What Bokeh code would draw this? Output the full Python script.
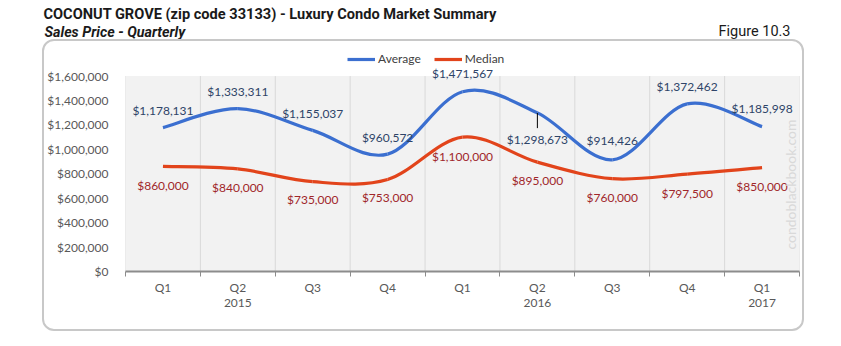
import math
from bokeh.plotting import figure
from bokeh.layouts import column
from bokeh.models import (ColumnDataSource, FixedTicker, NumeralTickFormatter, Label,
                          LabelSet, Legend, LegendItem, Range1d)
from bokeh.core.properties import value
from bokeh.embed import file_html
from bokeh.resources import INLINE

# ---------------- data ----------------
quarters = ["Q1", "Q2", "Q3", "Q4", "Q1", "Q2", "Q3", "Q4", "Q1"]
years = ["", "2015", "", "", "", "2016", "", "", "2017"]
average = [1178131, 1333311, 1155037, 960572, 1471567, 1298673, 914426, 1372462, 1185998]
median = [860000, 840000, 735000, 753000, 1100000, 895000, 760000, 797500, 850000]
y_ticks = [0, 200000, 400000, 600000, 800000, 1000000, 1200000, 1400000, 1600000]

# label placement (pixels, + = up)
avg_label_offset = [17, 17, 17, 17, 18, -27, 19, 17, 18]
med_label_offset = [-19, -19, -18, -18, -19, -18, -19, -19, -19]

BLUE = "#3b6fd0"
RED = "#e2441b"
AVG_TXT = "#2e4468"
MED_TXT = "#a0262a"
GRAY = "#595959"
FONT = "Lato"
FS = "12px"
TFONT = "Roboto"

xs = list(range(1, len(quarters) + 1))
y_top = y_ticks[-1]

# ---------------- header (titles) ----------------
head = figure(width=841, height=39, x_range=Range1d(0, 841), y_range=Range1d(39, 0),
              output_backend="svg", toolbar_location=None, x_axis_type=None, y_axis_type=None,
              min_border=0, outline_line_color=None, background_fill_color="white",
              border_fill_color="white", frame_align=False)
head.grid.visible = False
head.add_layout(Label(x=43, y=13, text="COCONUT GROVE (zip code 33133) - Luxury Condo Market Summary",
                      text_align="left", text_baseline="middle", text_font=TFONT,
                      text_font_size="14.6px", text_font_style="bold", text_color="#1a1a1a"))
head.add_layout(Label(x=44, y=31, text="Sales Price - Quarterly",
                      text_align="left", text_baseline="middle", text_font=TFONT,
                      text_font_size="14.3px", text_font_style="bold italic", text_color="#1a1a1a"))
head.add_layout(Label(x=790, y=31, text="Figure 10.3",
                      text_align="right", text_baseline="middle", text_font=TFONT,
                      text_font_size="14.5px", text_color="#1a1a1a"))

# ---------------- main chart ----------------
p = figure(width=762, height=292, x_range=Range1d(0.5, len(xs) + 0.5),
           y_range=Range1d(0, 1850000), output_backend="svg", toolbar_location=None,
           min_border_left=76, min_border_right=7, min_border_top=4, min_border_bottom=62,
           background_fill_color="white", border_fill_color=None,
           outline_line_color=None, frame_align=False,
           styles={"border": "2px solid #c8c8c8", "border-radius": "12px"},
           margin=(0, 0, 0, 42))

# plot area background and category separators
p.quad(left=[0.5], right=[len(xs) + 0.5], bottom=[0], top=[y_top],
       fill_color="#f2f2f2", line_color=None)
bounds = [x - 0.5 for x in xs] + [xs[-1] + 0.5]
p.segment(x0=bounds, y0=[0] * len(bounds), x1=bounds, y1=[y_top] * len(bounds),
          line_color="#d9d9d9", line_width=1)

# x axis
overrides = {}
for i, (q, yr) in enumerate(zip(quarters, years)):
    overrides[xs[i]] = q + ("\n" + yr if yr else "")
p.xaxis.ticker = FixedTicker(ticks=xs, minor_ticks=bounds)
p.xaxis.major_label_overrides = overrides
p.xaxis.major_tick_line_color = None
p.xaxis.minor_tick_line_color = "#8c8c8c"
p.xaxis.minor_tick_out = 5
p.xaxis.minor_tick_in = 0
p.xaxis.axis_line_color = "#8c8c8c"
p.xaxis.axis_line_width = 2
p.xaxis.major_label_text_font = FONT
p.xaxis.major_label_text_font_size = FS
p.xaxis.major_label_text_color = GRAY
p.xaxis.major_label_text_line_height = 1.0
p.xaxis.major_label_standoff = 2

# y axis
p.yaxis.ticker = FixedTicker(ticks=y_ticks)
p.yaxis.formatter = NumeralTickFormatter(format="$0,0")
p.yaxis.axis_line_color = None
p.yaxis.major_tick_line_color = None
p.yaxis.minor_tick_line_color = None
p.yaxis.major_label_text_font = FONT
p.yaxis.major_label_text_font_size = FS
p.yaxis.major_label_text_color = GRAY
p.yaxis.major_label_standoff = 11

p.grid.visible = False


def bezier_segments(xv, yv, t=1.0 / 6.0):
    n = len(xv)
    d = dict(x0=[], y0=[], x1=[], y1=[], cx0=[], cy0=[], cx1=[], cy1=[])
    for i in range(n - 1):
        pm = max(i - 1, 0)
        pp = min(i + 2, n - 1)
        d["x0"].append(xv[i]); d["y0"].append(yv[i])
        d["x1"].append(xv[i + 1]); d["y1"].append(yv[i + 1])
        d["cx0"].append(xv[i] + (xv[i + 1] - xv[pm]) * t)
        d["cy0"].append(yv[i] + (yv[i + 1] - yv[pm]) * t)
        d["cx1"].append(xv[i + 1] - (xv[pp] - xv[i]) * t)
        d["cy1"].append(yv[i + 1] - (yv[pp] - yv[i]) * t)
    return ColumnDataSource(d)


r_avg = p.bezier(x0="x0", y0="y0", x1="x1", y1="y1", cx0="cx0", cy0="cy0", cx1="cx1", cy1="cy1",
                 source=bezier_segments(xs, average), line_color=BLUE, line_width=3.2)
r_med = p.bezier(x0="x0", y0="y0", x1="x1", y1="y1", cx0="cx0", cy0="cy0", cx1="cx1", cy1="cy1",
                 source=bezier_segments(xs, median), line_color=RED, line_width=3.2)

# leader line for the label placed below its point
for i, off in enumerate(avg_label_offset):
    if off < 0:
        p.segment(x0=[xs[i]], y0=[average[i]], x1=[xs[i]], y1=[average[i] - 125000],
                  line_color="black", line_width=1)

# data labels
avg_src = ColumnDataSource(dict(x=xs, y=average, t=["${:,}".format(v) for v in average],
                                off=avg_label_offset))
med_src = ColumnDataSource(dict(x=xs, y=median, t=["${:,}".format(v) for v in median],
                                off=med_label_offset))
p.add_layout(LabelSet(x="x", y="y", text="t", y_offset="off", source=avg_src,
                      text_align="center", text_baseline="middle", text_font=value(FONT),
                      text_font_size=value(FS), text_color=AVG_TXT))
p.add_layout(LabelSet(x="x", y="y", text="t", y_offset="off", source=med_src,
                      text_align="center", text_baseline="middle", text_font=value(FONT),
                      text_font_size=value(FS), text_color=MED_TXT))

# legend
legend = Legend(items=[LegendItem(label="Average", renderers=[r_avg], index=0),
                       LegendItem(label="Median", renderers=[r_med], index=0)],
                orientation="horizontal", location=(222, 205), padding=0, margin=0,
                spacing=13, glyph_width=28, glyph_height=14, label_height=14,
                label_standoff=3, border_line_color=None, background_fill_alpha=0,
                label_text_font=FONT, label_text_font_size="12px",
                label_text_color="#404040")
p.add_layout(legend)

# watermark
p.add_layout(Label(x=744, y=141, x_units="canvas", y_units="canvas", text="condoblackbook.com",
                   angle=math.pi / 2, text_align="center", text_baseline="middle",
                   text_font=FONT, text_font_size="14px", text_color="#d9d9d9"))

layout = column(head, p, spacing=0)
open("out.html", "w").write(file_html(layout, INLINE))
